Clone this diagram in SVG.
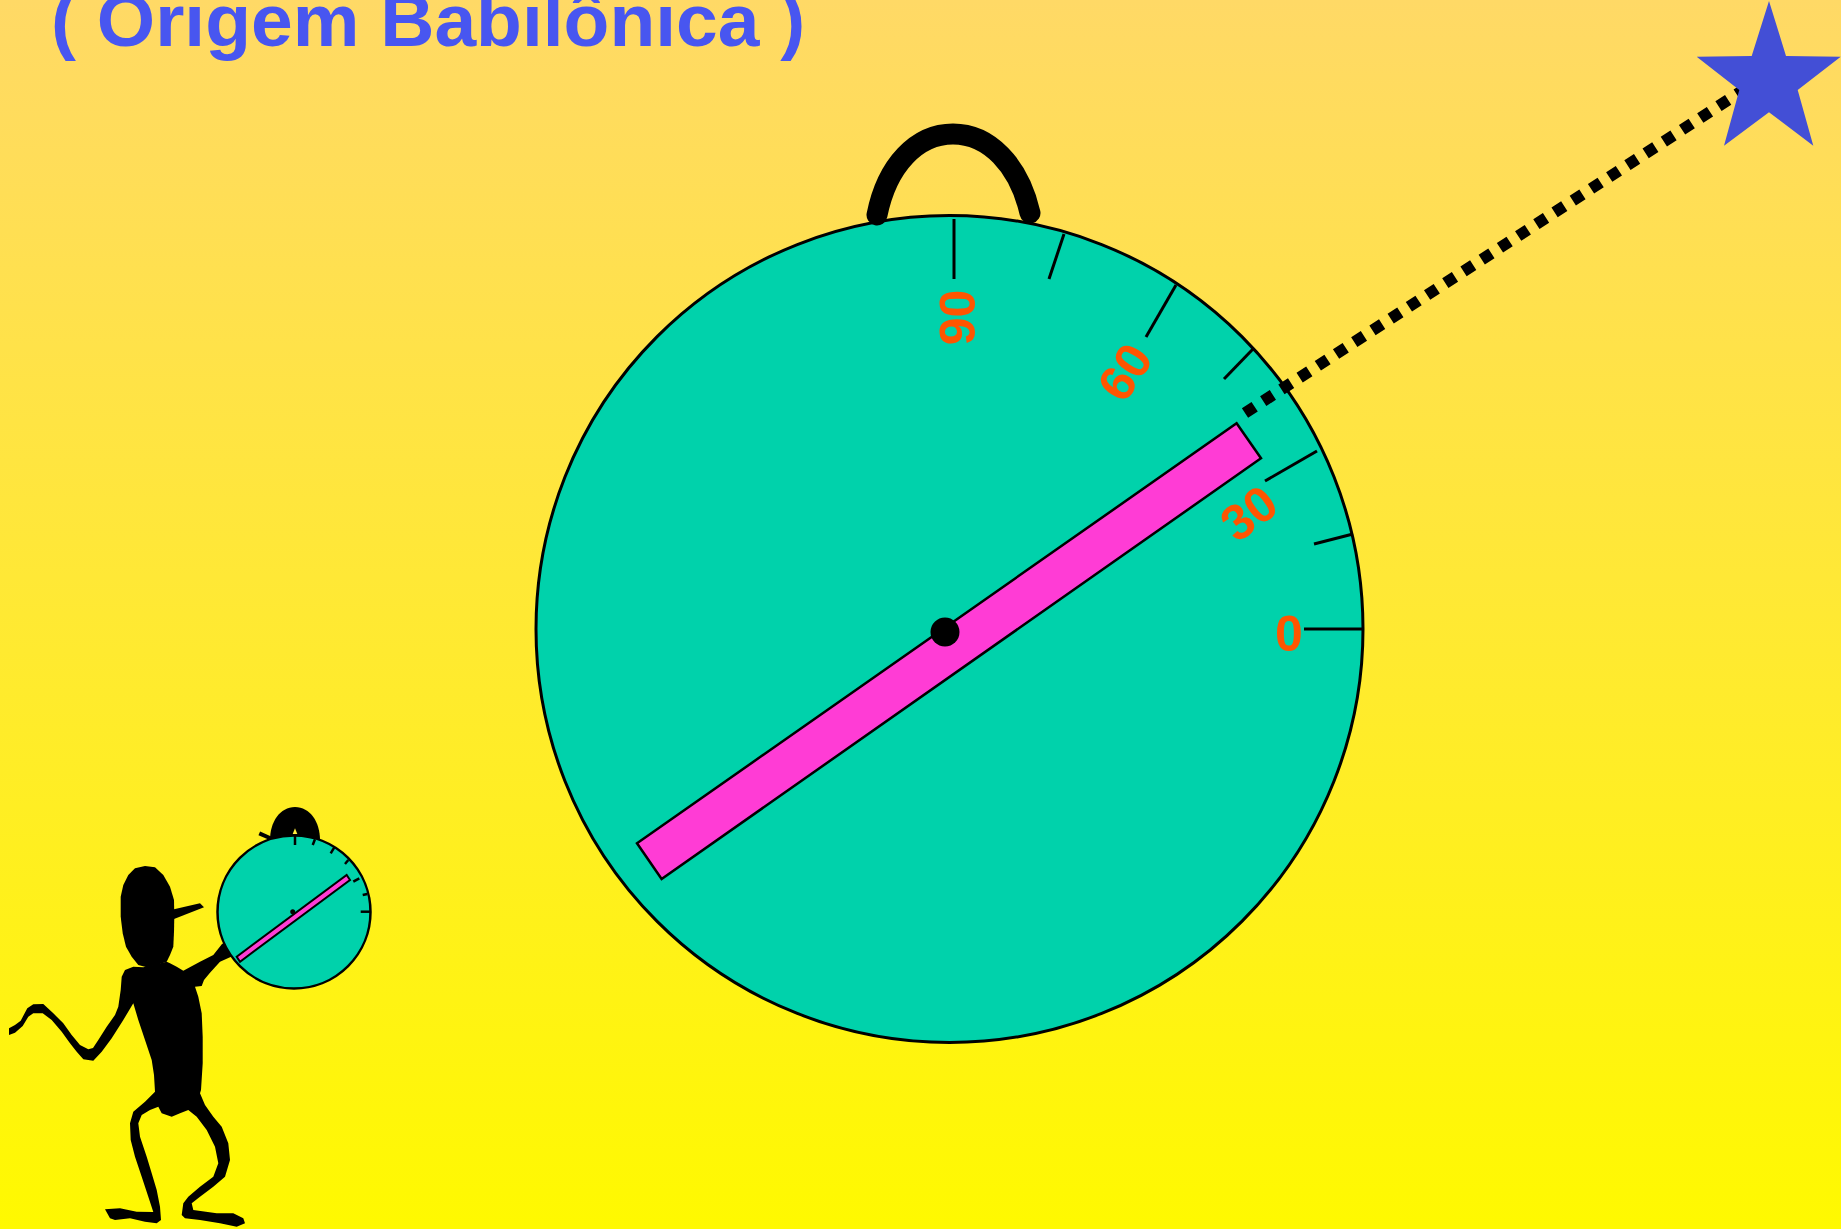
<svg xmlns="http://www.w3.org/2000/svg" width="1841" height="1229" viewBox="0 0 1841 1229">
  <defs>
    <linearGradient id="sky" x1="0" y1="0" x2="0" y2="1">
      <stop offset="0" stop-color="#FFD966"/>
      <stop offset="1" stop-color="#FFF900"/>
    </linearGradient>
    <style>
      .face { fill: #00D2AB; stroke: #000; }
      .tick { stroke: #000; stroke-width: 3; stroke-linecap: butt; }
      .tick-s { stroke: #000; stroke-width: 2.5; }
      .deg { font-family: "Liberation Sans", Arial, sans-serif; font-weight: bold; font-size: 50px; fill: #FF5500; text-anchor: middle; }
      .needle { fill: #FF3CD5; stroke: #000; }
      .ink { fill: #000; }
    </style>
  </defs>

  <!-- backdrop -->
  <rect x="0" y="0" width="1841" height="1229" fill="url(#sky)"/>

  <!-- heading -->
  <g id="title">
    <text x="51" y="46" font-family="'Liberation Sans', Arial, sans-serif" font-weight="bold" font-size="75" fill="#4856F0">( Origem Babilônica )</text>
  </g>

  <!-- large quadrant -->
  <g id="quadrant">
    <circle class="face" cx="949.5" cy="629" r="413.5" stroke-width="3"/>
    <path d="M877,215 C887,165 917,134 953,134 C989,134 1019,165 1030,213" fill="none" stroke="#000" stroke-width="21" stroke-linecap="round"/>
    <g id="scale">
      <line class="tick" x1="954" y1="219" x2="954" y2="279"/>
      <line class="tick" x1="1064" y1="234" x2="1049" y2="279"/>
      <line class="tick" x1="1176" y1="285" x2="1146" y2="337"/>
      <line class="tick" x1="1253" y1="349" x2="1224" y2="379"/>
      <line class="tick" x1="1317" y1="451" x2="1265" y2="481"/>
      <line class="tick" x1="1353" y1="534" x2="1314" y2="544"/>
      <line class="tick" x1="1362" y1="629" x2="1304" y2="629"/>
    </g>
    <g id="degrees">
      <text class="deg" transform="translate(1289,633)" y="18">0</text>
      <text class="deg" transform="translate(1248.3,512.7) rotate(-37)" y="18">30</text>
      <text class="deg" transform="translate(1124.3,371.7) rotate(-57)" y="18">60</text>
      <text class="deg" transform="translate(956.7,317.5) rotate(-90)" y="18">90</text>
    </g>
    <polygon class="needle" points="1236.6,423.3 1261,458.3 661.6,879 637,843.3" stroke-width="2.5"/>
    <circle class="ink" cx="945" cy="632" r="14.5"/>
  </g>

  <!-- line of sight towards the star -->
  <g id="connectors">
    <line x1="1245" y1="413" x2="1762" y2="78" stroke="#000" stroke-width="11.5" stroke-dasharray="11.5 10.2"/>
  </g>

  <!-- the star being sighted -->
  <g id="star">
    <polygon points="1769,1 1786,56 1840.7,56.7 1797.7,90 1813.3,145.7 1769,112.3 1724,145.7 1739.3,90 1696.7,56.7 1751.7,56" fill="#434FD6"/>
  </g>

  <!-- little observer holding a quadrant -->
  <g id="observer">
    <path class="ink" d="M145,866 L155,867.3 L163.3,875 L170,886.7 L174,900 L174.3,916.7 L174,931.7 L173.3,946.7 L170,955 L166.7,961.7 L156.7,965 L146.7,967.3 L138.3,965 L131.7,956.7 L126,946.7 L122.7,933.3 L120.7,916.7 L120.7,896.7 L123.3,885 L128.3,875 L135,868.3 Z"/>
    <polygon class="ink" points="174,909.3 200,903.3 204,907.3 174,919"/>
    <path class="ink" d="M143.3,967.3 L133.3,966.7 L125,970 L121.7,976.7 L120.7,990 L118.3,1006.7 L115,1015 L106.7,1026.7 L98.3,1040 L93,1048 L88.3,1049.3 L80,1045 L71.7,1035 L63.3,1023.3 L53.3,1013.3 L43.3,1004 L33.3,1004.3 L27.3,1008.3 L20.7,1020.7 L15,1025 L9,1028.3 L9,1035 L15,1032.7 L22.7,1026 L28.3,1016.7 L33.3,1013.3 L42.7,1013.3 L51.7,1020 L61.7,1031.7 L70,1043.3 L76.7,1051.7 L83.3,1059.3 L93.3,1060.7 L101.7,1051.7 L111.7,1038.3 L123.3,1020 L133.3,1003.3 L138.3,1020 L145,1040 L151.7,1060 L154,1075 L155,1091.7 L145,1101.7 L133.3,1111.7 L130,1123.3 L130.7,1140 L135,1156.7 L141.7,1176.7 L148.3,1196.7 L153.3,1212 L136.7,1211.7 L120,1208.3 L105,1209.3 L110,1218.3 L115,1220 L130,1218.3 L145,1221.7 L156.7,1223.3 L161,1220 L160,1206.7 L156.7,1190 L151.7,1173.3 L146.7,1156.7 L140,1136.7 L138.3,1123.3 L141.7,1115 L150,1110 L158.3,1106.7 L161.7,1113.3 L171.7,1116.7 L180,1113.3 L188.3,1110 L196.7,1116.7 L206.7,1130 L215,1146.7 L218.3,1163.3 L213.3,1176.7 L200,1186.7 L188.3,1196.7 L183.3,1203.3 L181.7,1215 L185,1218.3 L200,1220 L220,1223.3 L236.7,1226.7 L245,1223.3 L243.3,1218.3 L233.3,1213.3 L216.7,1213.3 L193.3,1210 L191.7,1203.3 L200,1196.7 L213.3,1186.7 L225,1176.7 L230,1160 L228.3,1143.3 L221.7,1126.7 L213.3,1116.7 L205,1105 L200,1093.3 L201,1090 L202.7,1063.3 L202.7,1036.7 L201.7,1013.3 L198.3,996.7 L195,986.7 L201.7,986 L204,980 L210,972.7 L220,961.7 L235,955 L232,938 L222,944 L213.3,955 L200,961.7 L183.3,970.7 L176.7,966.7 L170,963.3 L166.7,961.7 Z"/>
  </g>

  <!-- observer's quadrant -->
  <g id="small-quadrant">
    <path class="ink" d="M270,840 C270,822 280,807 295,807 C310,807 320,822 320,840 Z"/>
    <polygon points="295,828.3 292.7,834 297.3,834" fill="#FFEB3C"/>
    <line x1="259.3" y1="833.3" x2="271" y2="838.5" stroke="#000" stroke-width="4"/>
    <circle class="face" cx="294" cy="912" r="76.5" stroke-width="2.5"/>
    <line class="tick-s" x1="295" y1="836" x2="295" y2="845"/>
    <line class="tick-s" x1="315" y1="839.3" x2="312.7" y2="845"/>
    <line class="tick-s" x1="334.3" y1="847.3" x2="330.7" y2="853.3"/>
    <line class="tick-s" x1="348.3" y1="860" x2="345" y2="864"/>
    <line class="tick-s" x1="359.3" y1="878.3" x2="353.3" y2="881.7"/>
    <line class="tick-s" x1="367.3" y1="894" x2="362.7" y2="895"/>
    <line class="tick-s" x1="370.5" y1="911.7" x2="360.7" y2="911.7"/>
    <polygon class="needle" points="346.7,875 350,880 240,961.7 236.7,956.7" stroke-width="2"/>
    <circle class="ink" cx="292.7" cy="911.7" r="2.5"/>
  </g>
</svg>
